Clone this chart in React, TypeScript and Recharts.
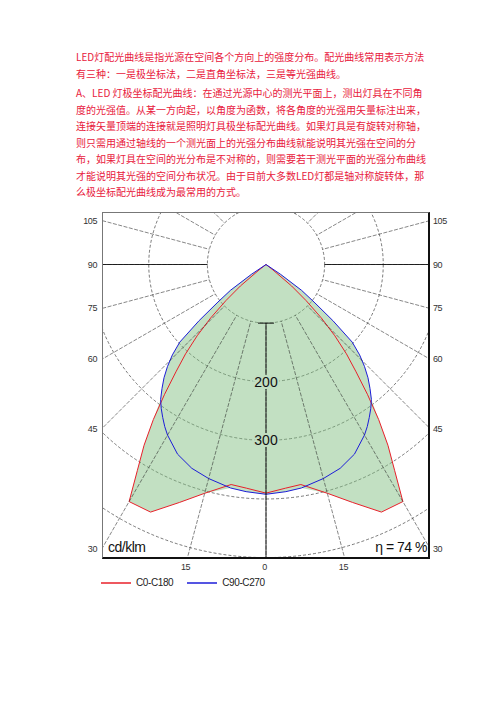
import React from "react";
import {
  RadarChart,
  Radar,
  PolarGrid,
  PolarAngleAxis,
  PolarRadiusAxis,
  Legend,
} from "recharts";

// half curves, angle from nadir (deg) -> cd/klm, mirrored for the other half
const halfAngles = [0, 5, 9, 15, 20, 25, 30, 32, 34, 36, 38, 40, 42, 44, 46, 48, 50, 52, 54, 56, 58, 60, 90, 120, 150, 180];
const c0c180 = [390, 383, 380, 404, 432, 466, 467, 414, 372, 327, 281, 239, 205, 169, 131, 92, 57, 15, 0, 0, 0, 0, 0, 0, 0, 0];
const c90c270 = [392, 389, 386, 378, 370, 357, 336, 326, 315, 304, 292, 276, 260, 242, 222, 198, 149, 104, 75, 30, 0, 0, 0, 0, 0, 0];

const gridAngles = [0, 15, 30, 45, 60, 75, 90, 105, 120, 135, 150, 165, 180, 195, 210, 225, 240, 255, 270, 285, 300, 315, 330, 345];
const mainAngles = [0, 90, 180, 270];
const radiusTicks = [100, 200, 300, 400, 500];
const labelledRadii = [200, 300];
const sideLabels = [105, 90, 75, 60, 45, 30];
const bottomLabels = [-15, 0, 15];

const paragraph1 = [
  "LED灯配光曲线是指光源在空间各个方向上的强度分布。配光曲线常用表示方法",
  "有三种：一是极坐标法，二是直角坐标法，三是等光强曲线。",
];
const paragraph2 = [
  "A、LED 灯极坐标配光曲线：在通过光源中心的测光平面上，测出灯具在不同角",
  "度的光强值。从某一方向起，以角度为函数，将各角度的光强用矢量标注出来，",
  "连接矢量顶端的连接就是照明灯具极坐标配光曲线。如果灯具是有旋转对称轴，",
  "则只需用通过轴线的一个测光面上的光强分布曲线就能说明其光强在空间的分",
  "布，如果灯具在空间的光分布是不对称的，则需要若干测光平面的光强分布曲线",
  "才能说明其光强的空间分布状况。由于目前大多数LED灯都是轴对称旋转体，那",
  "么极坐标配光曲线成为最常用的方式。",
];

const FRAME = { left: 102, top: 212, width: 328, height: 347 };
const CX = 164;
const CY = 52.5;
const OUTER = 340;
const RMAX = 580;
const LEGEND_H = 40;

const rows = [
  ...halfAngles.map((a, i) => ({ angle: a, c0: c0c180[i], c90: c90c270[i] })),
  ...halfAngles
    .slice(1, -1)
    .reverse()
    .map((a) => {
      const i = halfAngles.indexOf(a);
      return { angle: 360 - a, c0: c0c180[i], c90: c90c270[i] };
    }),
].map((r) => ({ ...r, area: Math.max(r.c0, r.c90) }));

const TEXT_RED = "#e8203c";
const GREEN_BG = "#c2dec2";

const RadiusTick = (props: any) => {
  const { x, y, payload } = props;
  const v = payload?.value;
  if (v === 100) {
    return <line x1={x - 8} x2={x + 8} y1={y} y2={y} stroke="#111" strokeWidth={1} />;
  }
  if (labelledRadii.includes(v)) {
    return (
      <text
        x={x}
        y={y}
        textAnchor="middle"
        dominantBaseline="central"
        fontSize={14}
        fontFamily="'Liberation Sans', Arial, sans-serif"
        fill="#111"
        stroke={GREEN_BG}
        strokeWidth={4}
        paintOrder="stroke"
      >
        {v}
      </text>
    );
  }
  return <g />;
};

const LegendContent = (props: any) => {
  const items = (props.payload || []).filter((p: any) => p.type !== "none");
  return (
    <div
      style={{
        display: "flex",
        alignItems: "center",
        fontFamily: "'Liberation Sans', Arial, sans-serif",
        fontSize: 10,
        color: "#222",
      }}
    >
      {items.map((p: any) => (
        <div key={p.value} style={{ display: "flex", alignItems: "center", marginRight: 14 }}>
          <svg width={30} height={4}>
            <line x1={0} x2={30} y1={2} y2={2} stroke={p.color} strokeWidth={1.5} />
          </svg>
          <span style={{ marginLeft: 5, letterSpacing: -0.4 }}>{p.value}</span>
        </div>
      ))}
    </div>
  );
};

const tickText: React.CSSProperties = {
  position: "absolute",
  fontFamily: "'Liberation Sans', Arial, sans-serif",
  fontSize: 9,
  color: "#333",
  lineHeight: "10px",
  letterSpacing: -0.4,
};

export default function App() {
  const rad = (d: number) => (d * Math.PI) / 180;
  const pageCx = FRAME.left + CX;
  const pageCy = FRAME.top + CY;

  return (
    <div style={{ position: "absolute", left: 0, top: 0, width: 496, height: 702, background: "#fff" }}>
      <style>{`.polar-box .recharts-wrapper > svg.recharts-surface { clip-path: inset(0 0 ${LEGEND_H}px 0); }`}</style>

      {[...paragraph1.map((t, i) => ({ t, y: 57 + i * 16.5 })), ...paragraph2.map((t, i) => ({ t, y: 93 + i * 16.5 }))].map(
        (l, i) => (
          <div
            key={i}
            style={{
              position: "absolute",
              left: 76,
              top: l.y - 8,
              whiteSpace: "nowrap",
              fontFamily: "'Noto Sans CJK SC', sans-serif",
              fontSize: 10,
              lineHeight: "16px",
              color: TEXT_RED,
            }}
          >
            {l.t}
          </div>
        )
      )}

      <div className="polar-box" style={{ position: "absolute", left: FRAME.left, top: FRAME.top }}>
        <RadarChart
          width={FRAME.width}
          height={FRAME.height + LEGEND_H}
          data={rows}
          cx={CX}
          cy={CY}
          outerRadius={OUTER}
          startAngle={-90}
          endAngle={-450}
          margin={{ top: 0, right: 0, bottom: 0, left: 0 }}
        >
          <PolarGrid gridType="circle" radialLines={false} stroke="#222" strokeWidth={0.6} strokeDasharray="3 2" />
          <PolarAngleAxis
            dataKey="angle"
            type="number"
            domain={[0, 360]}
            ticks={gridAngles}
            orientation="inner"
            tickSize={OUTER - (100 / RMAX) * OUTER}
            tick={false}
            axisLine={false}
            stroke="#222"
            tickLine={{ stroke: "#222", strokeWidth: 0.55, strokeDasharray: "4 1.5" }}
          />
          <PolarAngleAxis
            angleAxisId="main"
            dataKey="angle"
            type="number"
            domain={[0, 360]}
            ticks={mainAngles}
            orientation="inner"
            tickSize={OUTER - (100 / RMAX) * OUTER}
            tick={false}
            axisLine={false}
            stroke="#111"
            tickLine={{ stroke: "#111", strokeWidth: 0.9 }}
          />
          <PolarRadiusAxis
            angle={-90}
            type="number"
            domain={[0, RMAX]}
            ticks={radiusTicks}
            tick={RadiusTick}
            axisLine={false}
          />
          <Radar
            name="area"
            dataKey="area"
            stroke="none"
            fill="#7fbf7f"
            fillOpacity={0.48}
            legendType="none"
            isAnimationActive={false}
          />
          <Radar
            name="C0-C180"
            dataKey="c0"
            stroke="#e8202a"
            strokeWidth={1}
            fill="none"
            fillOpacity={0}
            legendType="plainline"
            isAnimationActive={false}
          />
          <Radar
            name="C90-C270"
            dataKey="c90"
            stroke="#1c1cd8"
            strokeWidth={1}
            fill="none"
            fillOpacity={0}
            legendType="plainline"
            isAnimationActive={false}
          />
          <Legend
            content={LegendContent}
            wrapperStyle={{ left: -1, top: FRAME.height + 18, width: "auto" }}
          />
        </RadarChart>
      </div>

      <div
        style={{
          position: "absolute",
          left: FRAME.left,
          top: FRAME.top,
          width: FRAME.width - 3,
          height: FRAME.height - 3,
          borderTop: "1px solid #777",
          borderLeft: "1px solid #777",
          borderRight: "2px solid #111",
          borderBottom: "2px solid #111",
          pointerEvents: "none",
        }}
      />

      {sideLabels.map((a) => {
        const y = pageCy + CX / Math.tan(rad(a));
        return (
          <React.Fragment key={a}>
            <div style={{ ...tickText, left: 60, width: 37, textAlign: "right", top: y - 5 }}>{a}</div>
            <div style={{ ...tickText, left: 433, top: y - 5 }}>{a}</div>
          </React.Fragment>
        );
      })}
      {bottomLabels.map((a) => {
        const x = pageCx + (FRAME.height - CY) * Math.tan(rad(a)) - 1.5;
        return (
          <div key={a} style={{ ...tickText, left: x - 15, width: 30, textAlign: "center", top: 562 }}>
            {Math.abs(a)}
          </div>
        );
      })}

      <div
        style={{
          position: "absolute",
          left: 108,
          top: 539,
          fontFamily: "'Liberation Sans', Arial, sans-serif",
          fontSize: 14,
          lineHeight: "16px",
          color: "#111",
          letterSpacing: -0.5,
        }}
      >
        cd/klm
      </div>
      <div
        style={{
          position: "absolute",
          left: 347,
          width: 80,
          textAlign: "right",
          top: 539,
          fontFamily: "'Liberation Sans', Arial, sans-serif",
          fontSize: 14,
          lineHeight: "16px",
          color: "#111",
          letterSpacing: -0.5,
        }}
      >
        η = 74 %
      </div>
    </div>
  );
}
